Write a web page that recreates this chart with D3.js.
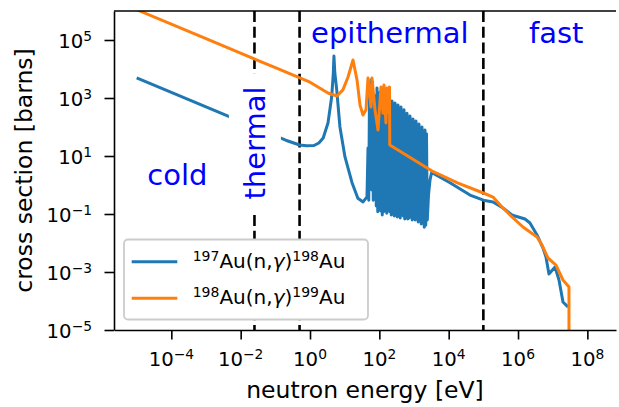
<!DOCTYPE html>
<html>
<head>
<meta charset="utf-8">
<script src="https://cdn.jsdelivr.net/npm/d3@7"></script>
<style>
    body { margin: 0; background: #ffffff; }
    text { font-family: "DejaVu Sans", sans-serif; }
</style>
</head>
<body>
<script>
//197Au(n,gamma) capture cross section: energy [eV] / sigma [barns]
var au197LowEnergy = [1e-5, 1e-4, 1e-3, 1e-2, 0.1, 0.2, 0.5, 0.8, 1.3, 1.8, 2.4, 3.3, 4.22, 4.7, 4.9, 5.2, 5.9, 7.3, 10.2, 16.3, 24, 34, 44];
var au197LowSigma = [4960, 1570, 496, 157, 49.6, 35, 24, 22.5, 23, 28, 42, 138, 1100, 7100, 28000, 7300, 1900, 100, 9.3, 1.2, 0.35, 0.26, 0.39];

//resolved resonance forest (peak, valley, peak, ...)
var au197ForestEnergy = [47.1, 49.5, 52.0, 54.7, 57.5, 60.4, 63.5, 66.7, 70.2, 73.8, 77.5, 81.5, 85.6, 90.0, 94.6, 99.4,
    104.5, 109.8, 115.4, 121.3, 127.5, 134.0, 140.9, 148.1, 155.6, 163.5, 171.9, 180.7, 189.9, 199.6, 209.8, 220.5,
    231.8, 243.6, 256.0, 269.1, 282.8, 297.2, 312.5, 328.4, 345.2, 362.8, 381.3, 400.7, 421.2, 442.7, 465.3, 489.0,
    514.1, 540.3, 567.9, 596.9, 627.3, 659.3, 693.0, 728.3, 765.6, 804.6, 845.7, 888.8, 934.3, 981.9, 1032, 1085,
    1140, 1198, 1259, 1323, 1391, 1462, 1537, 1615, 1698, 1785, 1876, 1972, 2072, 2178, 2289, 2417];
var au197ForestSigma = [19, 0.30, 1890, 1.0, 4200, 0.67, 3560, 0.30, 1260, 0.35, 860, 0.19, 2200, 0.12, 1260, 0.16,
    1600, 0.127, 1000, 0.093, 1900, 0.12, 860, 0.15, 1260, 0.107, 720, 0.17, 1000, 0.12, 620, 0.093,
    790, 0.107, 530, 0.085, 670, 0.12, 455, 0.079, 575, 0.1, 390, 0.073, 490, 0.12, 330, 0.085,
    390, 0.067, 260, 0.093, 300, 0.067, 220, 0.073, 240, 0.085, 175, 0.062, 190, 0.079, 138, 0.062,
    162, 0.073, 108, 0.053, 126, 0.062, 93, 0.045, 100, 0.053, 73, 0.035, 79, 0.041, 58, 0.062];

var au197HighEnergy = [2620, 2890, 3220, 10900, 41200, 1e5, 1.9e5, 3.69e5, 6.7e5, 8.2e5, 1.59e6, 2.21e6, 3.53e6, 5.25e6, 6.4e6, 7.8e6, 1.17e7, 1.52e7, 1.98e7, 2.77e7];
var au197HighSigma = [0.46, 1.48, 2.7, 1.2, 0.45, 0.30, 0.26, 0.161, 0.092, 0.085, 0.067, 0.049, 0.0189, 0.0067, 0.0033, 8.5e-4, 1.49e-3, 5.3e-4, 9.2e-5, 6.2e-5];

//198Au(n,gamma) capture cross section
var au198Energy = [1e-5, 1e-3, 0.1, 1, 3.3, 6.0, 8.9, 12.5, 17.4, 22.7, 27.7, 33.8, 41.2,
    47, 57.5, 61.3, 75, 91.5, 111.5, 127, 136, 155, 166, 180, 196, 200,
    3600, 18600, 1e5, 1.9e5, 3.45e5, 6.7e5, 1.39e6, 3.53e6, 4.92e6, 7.3e6, 1.245e7, 1.98e7, 2.95e7, 2.95e7];
var au198Sigma = [1.107e6, 110700, 11070, 3500, 1490, 1170, 1900, 5300, 20500, 4200, 570, 260, 390,
    4900, 490, 4900, 390, 79, 2400, 300, 2800, 138, 2200, 320, 2400, 24,
    2.88, 1.17, 0.53, 0.385, 0.174, 0.079, 0.0356, 0.0161, 0.0085, 0.00304, 0.00174, 5.3e-4, 3.04e-4, 1e-9];

//energy region boundaries [eV] and names
var regionEdges = [0.025, 0.5, 1e5];
var regionNames = ["cold", "thermal", "epithermal", "fast"];

//tick exponents
var xTickExps = [-4, -2, 0, 2, 4, 6, 8];
var yTickExps = [-5, -3, -1, 1, 3, 5];

//legend: target and product mass numbers
var legendTargets = ["197", "198"];
var legendProducts = ["198", "199"];

window.onload = function() {

    var width = 619, height = 407;
    var left = 114, right = 616, top = 11, bottom = 330;
    var colors = ["#1f77b4", "#ff7f0e"];
    var tickFont = 19.7, supFont = 13.8;

    var svg = d3.select("body")
        .append("svg")
        .attr("width", width)
        .attr("height", height);

    //log scales
    var x = d3.scaleLog()
        .domain([2.22e-6, 6.7e8])
        .range([left, right]);

    var y = d3.scaleLog()
        .domain([1e-5, 1e6])
        .range([bottom, top]);

    svg.append("clipPath")
        .attr("id", "plotClip")
        .append("rect")
        .attr("x", left)
        .attr("y", top)
        .attr("width", right - left)
        .attr("height", bottom - top);

    var plot = svg.append("g").attr("clip-path", "url(#plotClip)");

    //dashed region boundaries
    plot.selectAll(".edge")
        .data(regionEdges)
        .enter()
        .append("line")
        .attr("class", "edge")
        .attr("x1", function(d) { return x(d); })
        .attr("x2", function(d) { return x(d); })
        .attr("y1", top)
        .attr("y2", bottom)
        .style("stroke", "#000")
        .style("stroke-width", 2.6)
        .style("stroke-dasharray", "11,4.7");

    var series = [
        d3.zip(au197LowEnergy.concat(au197ForestEnergy, au197HighEnergy),
               au197LowSigma.concat(au197ForestSigma, au197HighSigma)),
        d3.zip(au198Energy, au198Sigma)
    ];

    var line = d3.line()
        .x(function(d) { return x(d[0]); })
        .y(function(d) { return y(d[1]); });

    plot.selectAll(".xs")
        .data(series)
        .enter()
        .append("path")
        .attr("class", "xs")
        .attr("d", line)
        .style("fill", "none")
        .style("stroke", function(d, i) { return colors[i]; })
        .style("stroke-width", 3)
        .style("stroke-linejoin", "round");

    //region labels
    var labelStyle = function(sel) {
        sel.style("font-size", "29px")
            .style("fill", "#0000ff")
            .attr("text-anchor", "middle");
    };

    svg.append("text").call(labelStyle)
        .attr("x", x(1.5e-4)).attr("y", y(1))
        .text(regionNames[0]);

    svg.append("text").call(labelStyle)
        .attr("x", x(200)).attr("y", y(7.9e4))
        .text(regionNames[2]);

    svg.append("text").call(labelStyle)
        .attr("x", x(1.26e7)).attr("y", y(7.9e4))
        .text(regionNames[3]);

    //rotated thermal label with a white box behind it
    var thermal = svg.append("g")
        .attr("transform", "translate(" + x(regionEdges[0]) + "," + y(28) + ") rotate(-90)");
    var thermalBox = thermal.append("rect").style("fill", "#fff");
    var thermalText = thermal.append("text").call(labelStyle)
        .attr("dy", "0.36em")
        .text(regionNames[1]);
    var bb = thermalText.node().getBBox();
    thermalBox
        .attr("x", bb.x - 13)
        .attr("y", bb.y - 9)
        .attr("width", bb.width + 26)
        .attr("height", bb.height + 18);

    //axes
    var xAxis = d3.axisBottom(x)
        .tickValues(xTickExps.map(function(e) { return Math.pow(10, e); }))
        .tickSize(9.5)
        .tickSizeOuter(0)
        .tickFormat("");

    var yAxis = d3.axisLeft(y)
        .tickValues(yTickExps.map(function(e) { return Math.pow(10, e); }))
        .tickSize(9.5)
        .tickSizeOuter(0)
        .tickFormat("");

    svg.append("g")
        .attr("transform", "translate(0," + bottom + ")")
        .call(xAxis);
    svg.append("g")
        .attr("transform", "translate(" + left + ",0)")
        .call(yAxis);
    svg.selectAll(".domain, .tick line")
        .style("stroke", "#000")
        .style("stroke-width", 1.6);

    //top spine
    svg.append("line")
        .attr("x1", left).attr("x2", right)
        .attr("y1", top).attr("y2", top)
        .style("stroke", "#000")
        .style("stroke-width", 1.6);

    //power-of-ten tick labels
    function powLabel(sel, e) {
        sel.append("tspan").text("10");
        sel.append("tspan")
            .attr("dy", -7.5)
            .style("font-size", supFont + "px")
            .text(e < 0 ? "\u2212" + Math.abs(e) : String(e));
    }

    svg.selectAll(".xlab")
        .data(xTickExps)
        .enter()
        .append("text")
        .attr("class", "xlab")
        .attr("x", function(d) { return x(Math.pow(10, d)); })
        .attr("y", 366)
        .attr("text-anchor", "middle")
        .style("font-size", tickFont + "px")
        .each(function(d) { powLabel(d3.select(this), d); });

    svg.selectAll(".ylab")
        .data(yTickExps)
        .enter()
        .append("text")
        .attr("class", "ylab")
        .attr("x", 92)
        .attr("y", function(d) { return y(Math.pow(10, d)) + 8; })
        .attr("text-anchor", "end")
        .style("font-size", tickFont + "px")
        .each(function(d) { powLabel(d3.select(this), d); });

    //axis titles
    svg.append("text")
        .attr("x", (left + right) / 2)
        .attr("y", 398)
        .attr("text-anchor", "middle")
        .style("font-size", "23.5px")
        .text("neutron energy [eV]");

    svg.append("text")
        .attr("transform", "translate(31.5," + (top + bottom) / 2 + ") rotate(-90)")
        .attr("text-anchor", "middle")
        .style("font-size", "23.5px")
        .text("cross section [barns]");

    //legend
    var legend = svg.append("g");
    legend.append("rect")
        .attr("x", 124)
        .attr("y", 239.5)
        .attr("width", 244)
        .attr("height", 80)
        .attr("rx", 4)
        .style("fill", "#fff")
        .style("stroke", "#cccccc")
        .style("stroke-width", 1.8);

    var rows = legend.selectAll(".row")
        .data(legendTargets)
        .enter()
        .append("g")
        .attr("class", "row")
        .attr("transform", function(d, i) { return "translate(0," + (261.7 + i * 36.6) + ")"; });

    rows.append("line")
        .attr("x1", 131.7).attr("x2", 177.3)
        .style("stroke", function(d, i) { return colors[i]; })
        .style("stroke-width", 3);

    var rowText = rows.append("text")
        .attr("x", 192.7)
        .attr("y", 5.8)
        .style("font-size", "20px");
    rowText.append("tspan").attr("dy", -7).style("font-size", "14px").text(function(d) { return d; });
    rowText.append("tspan").attr("dy", 7).text("Au(n,");
    rowText.append("tspan").style("font-style", "italic").text("\u03b3");
    rowText.append("tspan").text(")");
    rowText.append("tspan").attr("dy", -7).style("font-size", "14px").text(function(d, i) { return legendProducts[i]; });
    rowText.append("tspan").attr("dy", 7).text("Au");
};
</script>
</body>
</html>
